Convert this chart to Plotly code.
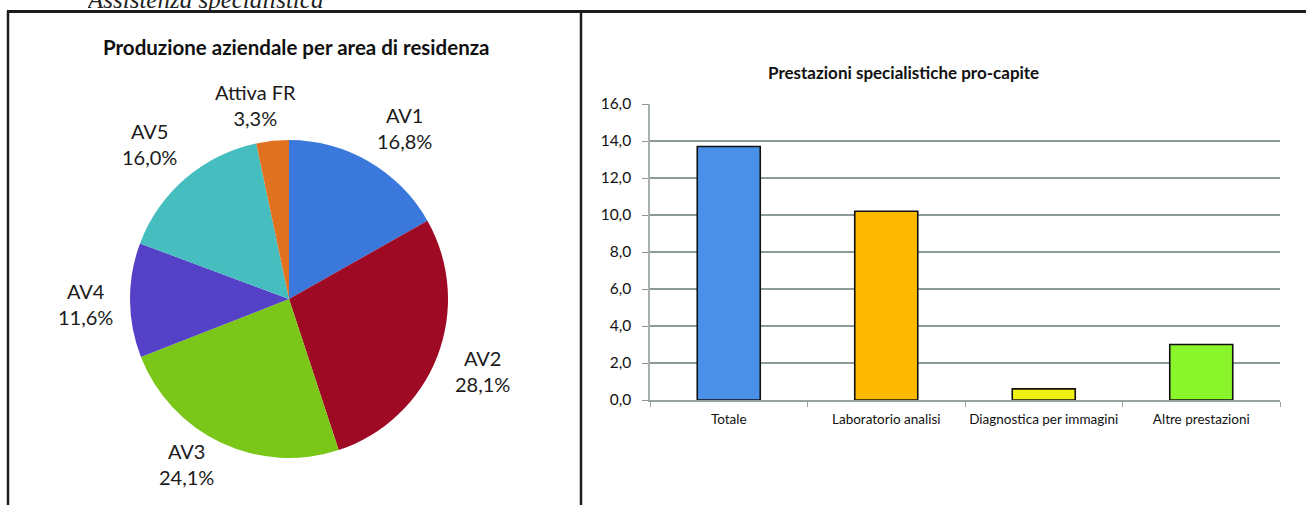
import math
import plotly.graph_objects as go

W, H = 1306, 505

# ---- data ----
pie_labels = ["AV1", "AV2", "AV3", "AV4", "AV5", "Attiva FR"]
pie_values = [16.8, 28.1, 24.1, 11.6, 16.0, 3.3]
pie_colors = ["#3A78DC", "#9E0A24", "#7AC71A", "#5540C8", "#46BEC0", "#E0711E"]

bar_categories = ["Totale", "Laboratorio analisi", "Diagnostica per immagini", "Altre prestazioni"]
bar_values = [13.7, 10.2, 0.6, 3.0]
bar_colors = ["#4A90E8", "#FDBA00", "#F0F012", "#8AF52A"]
y_ticks = [0, 2, 4, 6, 8, 10, 12, 14, 16]

heading = "Assistenza specialistica"

# label placement (layout only): distance from centre in radii, and angular nudge in degrees
label_radius = [1.30, 1.30, 1.22, 1.28, 1.31, 1.24]
label_nudge_deg = [3.7, -0.8, 6.5, -0.9, -1.3, -3.7]


def px_x(p):
    return p / W


def px_y(p):
    return 1 - p / H


FONT = "Lato"

fig = go.Figure()

# pie
pie_dom_x = [px_x(130), px_x(448)]
pie_dom_y = [px_y(458), px_y(140)]
fig.add_trace(go.Pie(
    labels=pie_labels, values=pie_values, sort=False, direction="clockwise",
    rotation=0, marker=dict(colors=pie_colors, line=dict(width=0)),
    textinfo="none", hoverinfo="label+percent", showlegend=False,
    domain=dict(x=pie_dom_x, y=pie_dom_y),
))

# bars
fig.add_trace(go.Bar(
    x=bar_categories, y=bar_values, marker=dict(color=bar_colors, line=dict(color="#111111", width=1.6)),
    showlegend=False, xaxis="x", yaxis="y",
))

# heading that is cut at the top edge (clipped by a hidden strip subplot)
fig.add_trace(go.Scatter(
    x=[0], y=[0], mode="text", text=[f"<i>{heading}</i>"], textposition="top right",
    textfont=dict(family="Liberation Serif", size=25, color="#222222"),
    cliponaxis=True, showlegend=False, hoverinfo="skip", xaxis="x2", yaxis="y2",
))

annotations = []
# pie labels positioned along slice mid-angles (derived from values)
cx = (pie_dom_x[0] + pie_dom_x[1]) / 2 * W
cy = (1 - (pie_dom_y[0] + pie_dom_y[1]) / 2) * H
R = (pie_dom_x[1] - pie_dom_x[0]) * W / 2
total = sum(pie_values)
cum = 0.0
for lab, val, rf, nd in zip(pie_labels, pie_values, label_radius, label_nudge_deg):
    mid = (cum + val / 2) / total * 2 * math.pi + math.radians(nd)
    cum += val
    lx = cx + rf * R * math.sin(mid)
    ly = cy - rf * R * math.cos(mid)
    txt = f"{lab}<br>{val:.1f}%".replace(".", ",")
    annotations.append(dict(
        x=px_x(lx), y=px_y(ly), xref="paper", yref="paper", text=txt, showarrow=False,
        xanchor="center", yanchor="middle", font=dict(family=FONT, size=20, color="#1a1a1a"),
    ))

# titles
annotations.append(dict(
    x=px_x(296), y=px_y(47), xref="paper", yref="paper", showarrow=False,
    text="<b>Produzione aziendale per area di residenza</b>",
    font=dict(family=FONT, size=20.5, color="#111111"), xanchor="center", yanchor="middle",
))
annotations.append(dict(
    x=px_x(903), y=px_y(72), xref="paper", yref="paper", showarrow=False,
    text="<b>Prestazioni specialistiche pro-capite</b>",
    font=dict(family=FONT, size=17, color="#111111"), xanchor="center", yanchor="middle",
))

shapes = [
    dict(type="line", xref="paper", yref="paper", x0=px_x(7), x1=1, y0=px_y(11.5), y1=px_y(11.5),
         line=dict(color="#1c1c1c", width=3)),
    dict(type="line", xref="paper", yref="paper", x0=px_x(8), x1=px_x(8), y0=px_y(11), y1=0,
         line=dict(color="#1c1c1c", width=2.5)),
    dict(type="line", xref="paper", yref="paper", x0=px_x(581), x1=px_x(581), y0=px_y(11), y1=0,
         line=dict(color="#1c1c1c", width=2.5)),
]

fig.update_layout(
    width=W, height=H, margin=dict(l=0, r=0, t=0, b=0, pad=0, autoexpand=False),
    paper_bgcolor="white", plot_bgcolor="white",
    separators=",.",
    annotations=annotations, shapes=shapes,
    bargap=0.6,
    xaxis=dict(domain=[px_x(650), px_x(1280)], showgrid=False, showline=True, linecolor="#98A4A4",
               linewidth=1.5, ticks="outside", tickson="boundaries", ticklen=5, tickcolor="#98A4A4",
               ticklabelstandoff=6, tickangle=0, automargin=False,
               tickfont=dict(family=FONT, size=13.5, color="#111111"), fixedrange=True),
    yaxis=dict(domain=[px_y(400), px_y(104)], range=[0, 16], tickvals=y_ticks, tickformat=".1f",
               showgrid=True, gridcolor="#8A9A9A", gridwidth=1.6, showline=True, linecolor="#A8B0B0",
               linewidth=1.5, ticks="outside", ticklen=6, tickcolor="#8A9A9A", zeroline=False,
               ticklabelstandoff=8, automargin=False,
               tickfont=dict(family=FONT, size=15.5, color="#111111"), fixedrange=True),
    xaxis2=dict(domain=[px_x(88), px_x(400)], range=[0, 1], visible=False, fixedrange=True),
    yaxis2=dict(domain=[px_y(14.5), 1], range=[0, 1], visible=False, fixedrange=True),
    font=dict(family=FONT),
)

fig.write_html(
    "out.html",
    config=dict(displayModeBar=False),
    post_script=(
        "document.documentElement.style.margin='0';document.body.style.margin='0';"
        "document.documentElement.style.overflow='hidden';document.body.style.overflow='hidden';"
        "var gd=document.getElementById('{plot_id}');"
        "gd.style.position='fixed';gd.style.left='0px';gd.style.top='0px';gd.style.overflow='hidden';"
    ),
)
